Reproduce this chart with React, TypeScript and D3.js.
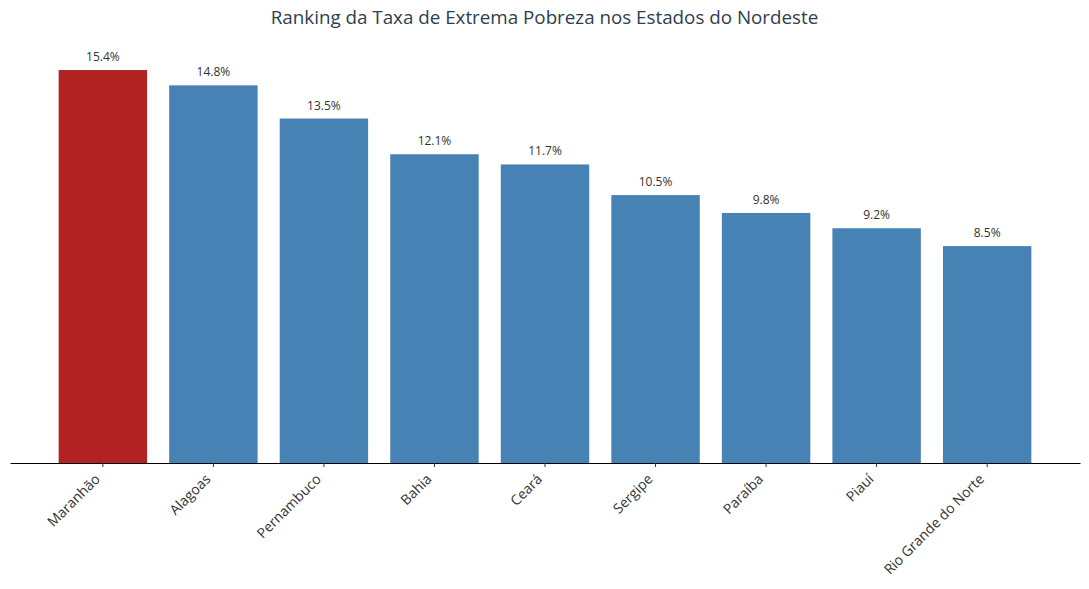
import React, { useEffect, useRef } from 'react';
import * as d3 from 'd3';

const states = [
  'Maranhão',
  'Alagoas',
  'Pernambuco',
  'Bahia',
  'Ceará',
  'Sergipe',
  'Paraíba',
  'Piauí',
  'Rio Grande do Norte',
];
const rates = [15.4, 14.8, 13.5, 12.1, 11.7, 10.5, 9.8, 9.2, 8.5];
const highlightState = 'Maranhão';

const WIDTH = 1089;
const HEIGHT = 589;
const FONT = '"Open Sans", Roboto, sans-serif';

const PovertyRankingChart: React.FC = () => {
  const svgRef = useRef<SVGSVGElement>(null);

  useEffect(() => {
    if (!svgRef.current) return;
    const svg = d3.select(svgRef.current);
    svg.selectAll('*').remove();

    const data = states.map((s, i) => ({ state: s, rate: rates[i] }));
    const baseline = 463;

    const x = d3.scaleBand()
      .domain(states)
      .range([10, 1080])
      .paddingInner(0.2)
      .paddingOuter(0.44);

    const y = d3.scaleLinear()
      .domain([0, (d3.max(rates) || 0) * 1.05])
      .range([baseline, 50.4]);

    // Title
    svg.append('text')
      .attr('x', WIDTH / 2)
      .attr('y', 24)
      .attr('text-anchor', 'middle')
      .attr('fill', '#2c3e50')
      .style('font-family', FONT)
      .style('font-size', '18.8px')
      .text('Ranking da Taxa de Extrema Pobreza nos Estados do Nordeste');

    // Bars
    svg.append('g')
      .selectAll('rect')
      .data(data)
      .enter().append('rect')
      .attr('x', d => x(d.state) || 0)
      .attr('y', d => y(d.rate))
      .attr('width', x.bandwidth())
      .attr('height', d => baseline - y(d.rate))
      .attr('fill', d => d.state === highlightState ? '#b22222' : '#4682b4');

    // Value labels
    svg.append('g')
      .selectAll('text')
      .data(data)
      .enter().append('text')
      .attr('x', d => (x(d.state) || 0) + x.bandwidth() / 2)
      .attr('y', d => y(d.rate) - 9)
      .attr('text-anchor', 'middle')
      .attr('fill', '#333')
      .style('font-family', FONT)
      .style('font-size', '12px')
      .text(d => `${d.rate.toFixed(1)}%`);

    // X axis
    const axis = svg.append('g')
      .attr('transform', `translate(0,${baseline})`)
      .call(d3.axisBottom(x).tickSize(4).tickSizeOuter(0));

    axis.select('.domain')
      .attr('stroke', '#000')
      .attr('stroke-width', 1.2);
    axis.selectAll('.tick line').attr('stroke', '#333');
    axis.selectAll('.tick text')
      .attr('fill', '#333')
      .style('font-family', FONT)
      .style('font-size', '14px')
      .attr('text-anchor', 'end')
      .attr('x', 0)
      .attr('y', 0)
      .attr('dy', null)
      .attr('transform', 'translate(-2,17) rotate(-45)');
  }, []);

  return <svg ref={svgRef} width={WIDTH} height={HEIGHT} style={{ display: 'block' }} />;
};

export default function App() {
  return (
    <div style={{ position: 'fixed', left: 0, top: 0, width: WIDTH, height: HEIGHT, background: '#fff' }}>
      <PovertyRankingChart />
    </div>
  );
}
